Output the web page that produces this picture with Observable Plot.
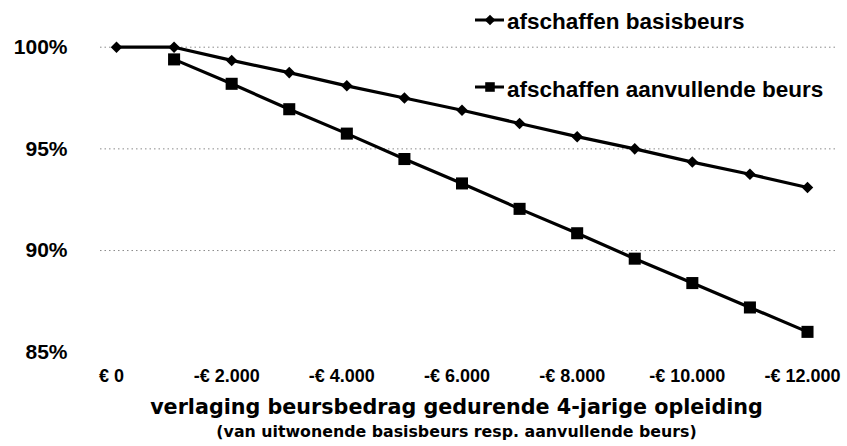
<!DOCTYPE html>
<html>
<head>
<meta charset="utf-8">
<script src="https://cdn.jsdelivr.net/npm/d3@7"></script>
<script src="https://cdn.jsdelivr.net/npm/@observablehq/plot@0.6"></script>
<style>
  html, body { margin: 0; padding: 0; background: #fff; }
  #wrap { position: relative; width: 847px; height: 446px; overflow: hidden; font-family: "Liberation Sans", Arial, sans-serif; }
  #wrap svg.plot { position: absolute; left: 0; top: 0; }
  .leg { position: absolute; left: 507px; font-size: 22.5px; font-weight: bold; line-height: 1; white-space: nowrap; color: #000; }
  .legsym { position: absolute; }
  .ttl { position: absolute; left: 0; width: 913px; text-align: center; font-family: "DejaVu Sans", sans-serif; font-weight: bold; line-height: 1; white-space: nowrap; color: #000; }
</style>
</head>
<body>
<div id="wrap"></div>
<script>
// ---- data ----
const amounts = [0, -1000, -2000, -3000, -4000, -5000, -6000, -7000, -8000, -9000, -10000, -11000, -12000];
const basisbeurs = [100, 100, 99.35, 98.75, 98.1, 97.5, 96.9, 96.25, 95.6, 95.0, 94.35, 93.75, 93.1];
const aanvullendeBeurs = [null, 99.4, 98.2, 96.95, 95.75, 94.5, 93.3, 92.05, 90.85, 89.6, 88.4, 87.2, 86.0];
const seriesNames = ["afschaffen basisbeurs", "afschaffen aanvullende beurs"];
const xTicks = [0, -2000, -4000, -6000, -8000, -10000, -12000];
const xTickLabels = ["€ 0", "-€ 2.000", "-€ 4.000", "-€ 6.000", "-€ 8.000", "-€ 10.000", "-€ 12.000"];
const yTicks = [85, 90, 95, 100];
const yTickLabels = ["85%", "90%", "95%", "100%"];
const gridValues = [90, 95, 100];
const xTitle = "verlaging beursbedrag gedurende 4-jarige opleiding";
const xSubtitle = "(van uitwonende basisbeurs resp. aanvullende beurs)";

// ---- build tables ----
const basisData = amounts.map((x, i) => ({x, y: basisbeurs[i]}));
const aanvData = amounts.map((x, i) => ({x, y: aanvullendeBeurs[i]})).filter(d => d.y != null);
const xLab = new Map(xTicks.map((t, i) => [t, xTickLabels[i]]));
const yLab = new Map(yTicks.map((t, i) => [t, yTickLabels[i]]));

const chart = Plot.plot({
  width: 847,
  height: 446,
  marginLeft: 100,
  marginRight: 12,
  marginTop: 0,
  marginBottom: 91,
  style: {fontFamily: "'Liberation Sans', Arial, sans-serif", background: "transparent", color: "#000"},
  x: {domain: [0, -12000], range: [116, 807]},
  y: {domain: [85, 100], range: [351.7, 46.7]},
  marks: [
    Plot.ruleY(gridValues, {stroke: "#8a8a8a", strokeWidth: 1, strokeDasharray: "1.5,3"}),
    Plot.axisY(yTicks, {tickSize: 0, tickPadding: 33, tickFormat: d => yLab.get(d), fontSize: 21, fontWeight: "bold", fill: "#000", label: null}),
    Plot.axisX(xTicks, {tickSize: 0, tickPadding: 14, tickFormat: d => xLab.get(d), fontSize: 18, fontWeight: "bold", fill: "#000", dx: -5, label: null}),
    Plot.line(basisData, {x: "x", y: "y", stroke: "#000", strokeWidth: 3.2}),
    Plot.dot(basisData, {x: "x", y: "y", symbol: "diamond2", r: 5.2, fill: "#000", stroke: "none"}),
    Plot.line(aanvData, {x: "x", y: "y", stroke: "#000", strokeWidth: 3.2}),
    Plot.dot(aanvData, {x: "x", y: "y", symbol: "square", r: 6.8, fill: "#000", stroke: "none"})
  ]
});
chart.classList.add("plot");
const wrap = document.getElementById("wrap");
wrap.appendChild(chart);

// ---- legend ----
function legendItem(name, sym, size, top, lineY) {
  const s = d3.create("svg").attr("class", "legsym").attr("width", 34).attr("height", 24)
    .style("left", "473px").style("top", (lineY - 12) + "px");
  s.append("line").attr("x1", 2).attr("x2", 31).attr("y1", 12).attr("y2", 12).attr("stroke", "#000").attr("stroke-width", 3);
  s.append("path").attr("d", d3.symbol(sym, size)()).attr("transform", "translate(17,12)").attr("fill", "#000");
  wrap.appendChild(s.node());
  const t = document.createElement("div");
  t.className = "leg";
  t.style.top = top + "px";
  t.textContent = name;
  wrap.appendChild(t);
}
legendItem(seriesNames[0], d3.symbolDiamond2, Math.PI * 4.8 * 4.8, 10.5, 19.5);
legendItem(seriesNames[1], d3.symbolSquare, Math.PI * 5.4 * 5.4, 79, 87);

// ---- axis titles ----
const t1 = document.createElement("div");
t1.className = "ttl"; t1.style.top = "396.5px"; t1.style.fontSize = "20.7px"; t1.textContent = xTitle;
const t2 = document.createElement("div");
t2.className = "ttl"; t2.style.top = "423.6px"; t2.style.fontSize = "15.8px"; t2.textContent = xSubtitle;
wrap.appendChild(t1); wrap.appendChild(t2);
</script>
</body>
</html>
